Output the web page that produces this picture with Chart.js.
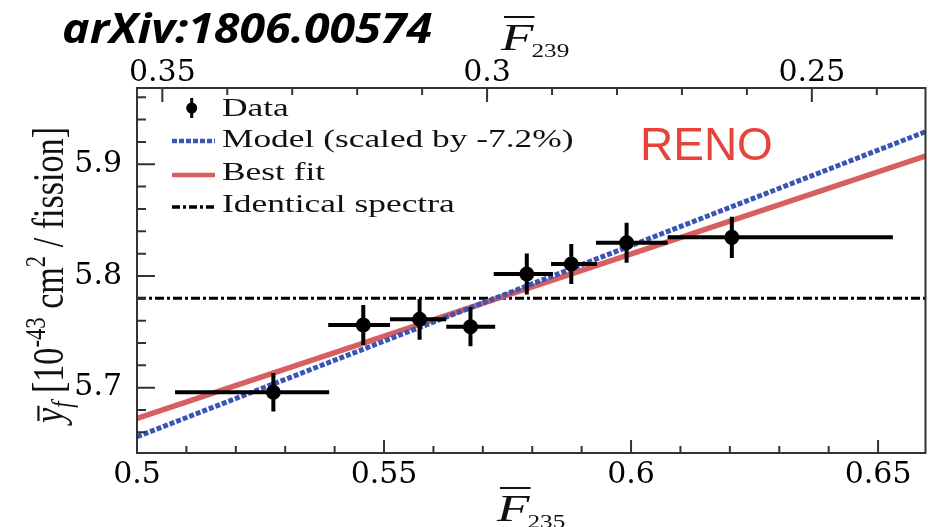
<!DOCTYPE html>
<html>
<head>
<meta charset="utf-8">
<script src="https://cdn.jsdelivr.net/npm/chart.js@4.4.1/dist/chart.umd.min.js"></script>
<style>
  html, body { margin: 0; padding: 0; background: #fff; }
</style>
</head>
<body>
<canvas id="renoChart" width="933" height="527"></canvas>
<script>
// mean F235 of each data bin, and the bin edges (horizontal bars)
const f235 = [0.5276, 0.5458, 0.5572, 0.5675, 0.5789, 0.5879, 0.5991, 0.6204]
const f235Lo = [0.5077, 0.5387, 0.5512, 0.5626, 0.5722, 0.5838, 0.5929, 0.6074]
const f235Hi = [0.5389, 0.5512, 0.5626, 0.5725, 0.5842, 0.5931, 0.6074, 0.6530]
// IBD yield per fission [10^-43 cm2 / fission] and its error
const yieldVals = [5.6959, 5.7561, 5.7612, 5.7546, 5.8018, 5.8107, 5.8298, 5.8346]
const yieldErr = [0.0172, 0.0179, 0.0182, 0.0176, 0.0184, 0.0179, 0.0179, 0.0184]

// the three straight lines, given at both ends
const lineX = [0.5, 0.66]
const modelY = [5.6561, 5.9298]
const bestFitY = [5.6725, 5.908]
const identicalY = [5.78, 5.78]

// tick labels
const xTicks = [0.5, 0.55, 0.6, 0.65]
const topTicks = [0.35, 0.3, 0.25]
const yTicks = [5.7, 5.8, 5.9]

const legendLabels = ['Data', 'Model (scaled by -7.2%)', 'Best fit', 'Identical spectra']

const BLUE = '#3a55b4'
const RED = '#d75f5f'
const serif = '"Liberation Serif", "Times New Roman", serif'
const tickFont = { family: '"DejaVu Serif", serif', size: 30 }

const pts = (xs, ys) => xs.map((x, i) => ({ x: x, y: ys[i] }))

function stretchText(c, text, x, y, sx) {
  c.save()
  c.translate(x, y)
  c.scale(sx, 1)
  c.fillText(text, 0, 0)
  c.restore()
}

// error bars, using the chart's own scales
const errorBars = {
  id: 'errorBars',
  afterDatasetsDraw(chart) {
    const c = chart.ctx, xs = chart.scales.x, ys = chart.scales.y
    c.save()
    c.strokeStyle = '#000'
    c.lineWidth = 4
    f235.forEach((v, i) => {
      const px = xs.getPixelForValue(v), py = ys.getPixelForValue(yieldVals[i])
      c.beginPath()
      c.moveTo(xs.getPixelForValue(f235Lo[i]), py)
      c.lineTo(xs.getPixelForValue(f235Hi[i]), py)
      c.moveTo(px, ys.getPixelForValue(yieldVals[i] - yieldErr[i]))
      c.lineTo(px, ys.getPixelForValue(yieldVals[i] + yieldErr[i]))
      c.stroke()
    })
    c.restore()
  }
}

// frame and inward tick marks
const frameTicks = {
  id: 'frameTicks',
  afterDraw(chart) {
    const c = chart.ctx, a = chart.chartArea
    const xs = chart.scales.x, xt = chart.scales.xTop, ys = chart.scales.y
    c.save()
    c.strokeStyle = '#333'
    c.lineWidth = 2
    c.strokeRect(a.left, a.top, a.right - a.left, a.bottom - a.top)
    c.beginPath()
    for (let i = 51; i <= 65; i++) {
      const p = xs.getPixelForValue(i / 100), len = i % 5 === 0 ? 13 : 7
      c.moveTo(p, a.bottom); c.lineTo(p, a.bottom - len)
    }
    for (let i = 24; i <= 35; i++) {
      const p = xt.getPixelForValue(i / 100), len = i % 5 === 0 ? 14 : 7
      c.moveTo(p, a.top); c.lineTo(p, a.top + len)
    }
    for (let i = 283; i <= 298; i++) {
      const p = ys.getPixelForValue(i / 50), len = i % 5 === 0 ? 18 : 9
      c.moveTo(a.left, p); c.lineTo(a.left + len, p)
    }
    c.stroke()
    c.restore()
  }
}

function drawFTitle(c, x, y, sub) {
  c.fillStyle = '#111'
  c.font = 'italic 38px ' + serif
  stretchText(c, 'F', x, y, 1.4)
  const w = c.measureText('F').width * 1.4
  c.fillRect(x + 3, y - 34, w - 2, 2)
  c.font = '18px ' + serif
  stretchText(c, sub, x + w - 2, y + 7, 1.4)
}

function drawYTitle(c) {
  const big = '33px ' + serif, small = '22px ' + serif
  const parts = [
    { t: 'y', font: 'italic ' + big, dy: 0, bar: true },
    { t: 'f', font: 'italic ' + small, dy: 7 },
    { t: ' [10', font: big, dy: 0 },
    { t: '-43', font: small, dy: -13 },
    { t: ' cm', font: big, dy: 0 },
    { t: '2', font: small, dy: -13 },
    { t: ' / fission]', font: big, dy: 0 }
  ]
  let total = 0
  parts.forEach(p => { c.font = p.font; p.w = c.measureText(p.t).width; total += p.w })
  const k = 296 / total
  c.save()
  c.translate(63, 423)
  c.rotate(-Math.PI / 2)
  c.scale(k, 1.35)
  c.fillStyle = '#111'
  let x = 0
  parts.forEach(p => {
    c.font = p.font
    c.fillText(p.t, x, p.dy)
    if (p.bar) c.fillRect(x + 2, -19, p.w, 1.6)
    x += p.w
  })
  c.restore()
}

const labels = {
  id: 'labels',
  afterDraw(chart) {
    const c = chart.ctx
    c.save()
    c.textAlign = 'left'
    c.textBaseline = 'alphabetic'

    // arXiv tag
    c.fillStyle = '#000'
    c.font = 'italic bold 42px "Open Sans", "Noto Sans", sans-serif'
    stretchText(c, 'arXiv:1806.00574', 62, 43, 370 / c.measureText('arXiv:1806.00574').width)

    // experiment name
    c.fillStyle = '#e8433a'
    c.font = '46px "Liberation Sans", Arial, sans-serif'
    c.fillText('RENO', 640, 160)

    // axis titles
    drawFTitle(c, 501, 50, '239')
    drawFTitle(c, 497, 521, '235')
    drawYTitle(c)

    // legend
    const rows = [116, 147, 180, 212]
    c.fillStyle = '#000'
    c.beginPath()
    c.arc(191.7, rows[0] - 8, 5.5, 0, Math.PI * 2)
    c.fill()
    c.fillRect(190.2, rows[0] - 18, 3, 20)
    c.lineWidth = 4.5
    c.strokeStyle = BLUE
    c.setLineDash([5, 2])
    c.beginPath(); c.moveTo(172, rows[1] - 6); c.lineTo(215, rows[1] - 6); c.stroke()
    c.strokeStyle = RED
    c.setLineDash([])
    c.beginPath(); c.moveTo(172, rows[2] - 5); c.lineTo(215, rows[2] - 5); c.stroke()
    c.strokeStyle = '#000'
    c.lineWidth = 3.5
    c.setLineDash([8, 3, 3, 3])
    c.beginPath(); c.moveTo(172, rows[3] - 5); c.lineTo(215, rows[3] - 5); c.stroke()
    c.setLineDash([])
    c.fillStyle = '#111'
    c.font = '26px ' + serif
    legendLabels.forEach((t, i) => stretchText(c, t, 222, rows[i], 1.36))
    c.restore()
  }
}

const ctx = document.getElementById('renoChart').getContext('2d')
const chart = new Chart(ctx, {
  type: 'scatter',
  data: {
    datasets: [
      {
        label: legendLabels[0],
        data: pts(f235, yieldVals),
        backgroundColor: '#000',
        borderWidth: 0,
        pointRadius: 7.5,
        pointHoverRadius: 7.5,
        order: 0
      },
      {
        label: legendLabels[1],
        type: 'line',
        data: pts(lineX, modelY),
        borderColor: BLUE,
        borderWidth: 5,
        borderDash: [5, 2],
        pointRadius: 0,
        fill: false,
        order: 1
      },
      {
        label: legendLabels[2],
        type: 'line',
        data: pts(lineX, bestFitY),
        borderColor: RED,
        borderWidth: 5.5,
        pointRadius: 0,
        fill: false,
        order: 2
      },
      {
        label: legendLabels[3],
        type: 'line',
        data: pts(lineX, identicalY),
        borderColor: '#000',
        borderWidth: 3,
        borderDash: [9, 3, 3, 3],
        pointRadius: 0,
        fill: false,
        order: 3
      }
    ]
  },
  options: {
    responsive: false,
    animation: false,
    devicePixelRatio: 1,
    layout: { padding: { left: 0, right: 5, top: 0, bottom: 0 } },
    plugins: { legend: { display: false }, tooltip: { enabled: false } },
    scales: {
      x: {
        type: 'linear',
        position: 'bottom',
        min: 0.5,
        max: 0.6596,
        afterBuildTicks: s => { s.ticks = xTicks.map(v => ({ value: v })) },
        afterFit: s => { s.height = 74 },
        grid: { display: false },
        border: { display: false },
        ticks: { font: tickFont, color: '#000', padding: -4, maxRotation: 0, autoSkip: false, callback: v => String(v) }
      },
      xTop: {
        type: 'linear',
        position: 'top',
        reverse: true,
        min: 0.2325,
        max: 0.3539,
        afterBuildTicks: s => { s.ticks = topTicks.map(v => ({ value: v })) },
        afterFit: s => { s.height = 88 },
        grid: { display: false },
        border: { display: false },
        ticks: { font: tickFont, color: '#000', padding: -11, maxRotation: 0, autoSkip: false, callback: v => String(v) }
      },
      y: {
        type: 'linear',
        position: 'left',
        min: 5.6415,
        max: 5.9683,
        afterBuildTicks: s => { s.ticks = yTicks.map(v => ({ value: v })) },
        afterFit: s => { s.width = 137 },
        grid: { display: false },
        border: { display: false },
        ticks: { font: tickFont, color: '#000', padding: 7, autoSkip: false, callback: v => String(v) }
      }
    }
  },
  plugins: [errorBars, frameTicks, labels]
})
</script>
</body>
</html>
